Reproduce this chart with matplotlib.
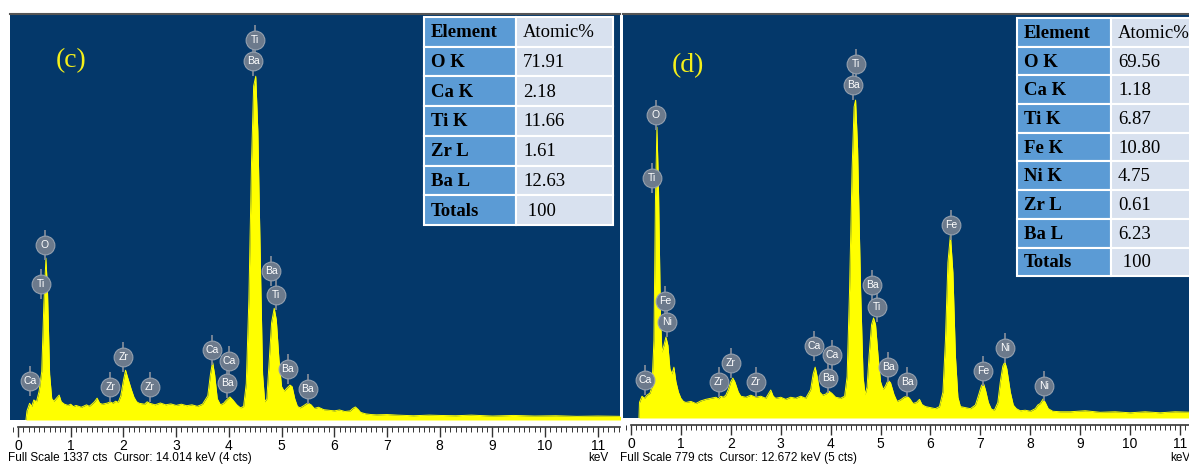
import matplotlib
matplotlib.use("Agg")
import matplotlib.pyplot as plt
from matplotlib.patches import Rectangle
from matplotlib.ticker import MultipleLocator

# --- spectrum (c): energy in keV, counts ---
kev_c = [0.15, 0.17, 0.22, 0.26, 0.30, 0.35, 0.40, 0.45, 0.49, 0.53, 0.56, 0.60, 0.64, 0.68,
         0.72, 0.78, 0.82, 0.88, 0.95, 1.00, 1.05, 1.10, 1.20, 1.30, 1.35, 1.40, 1.45, 1.50,
         1.55, 1.60, 1.70, 1.75, 1.80, 1.85, 1.90, 1.95, 2.00, 2.04, 2.08, 2.15, 2.20, 2.25,
         2.30, 2.40, 2.45, 2.50, 2.60, 2.70, 2.80, 2.90, 3.00, 3.10, 3.20, 3.30, 3.40, 3.50,
         3.60, 3.65, 3.69, 3.73, 3.78, 3.84, 3.90, 3.95, 4.02, 4.08, 4.15, 4.22, 4.28, 4.33,
         4.38, 4.43, 4.47, 4.51, 4.55, 4.60, 4.64, 4.68, 4.72, 4.76, 4.81, 4.86, 4.90, 4.95,
         5.00, 5.05, 5.10, 5.16, 5.20, 5.25, 5.30, 5.35, 5.40, 5.46, 5.50, 5.56, 5.62, 5.70,
         5.75, 5.80, 5.90, 6.00, 6.10, 6.20, 6.30, 6.35, 6.40, 6.45, 6.50, 6.60, 6.70, 6.80,
         7.00, 7.20, 7.50, 7.80, 8.00, 8.30, 8.60, 9.00, 9.40, 9.80, 10.2, 10.6, 11.0, 11.45]
cts_c = [0, 30, 55, 45, 66, 60, 95, 160, 380, 533, 420, 150, 70, 62,
         70, 82, 60, 52, 48, 52, 44, 48, 42, 50, 45, 52, 60, 72,
         55, 52, 56, 60, 55, 62, 58, 80, 130, 164, 140, 100, 75, 60,
         55, 52, 60, 55, 50, 56, 50, 53, 48, 52, 47, 50, 45, 52,
         80, 150, 191, 150, 70, 50, 55, 65, 76, 65, 50, 40, 45, 120,
         400, 850, 1100, 1132, 950, 500, 150, 60, 70, 180, 320, 368, 330, 200,
         110, 95, 105, 115, 110, 70, 45, 40, 45, 52, 56, 50, 38, 42,
         38, 34, 32, 30, 33, 28, 30, 38, 43, 35, 25, 20, 18, 17,
         18, 16, 14, 16, 15, 14, 16, 13, 15, 13, 14, 12, 13, 12]

# --- spectrum (d) ---
kev_d = [0.16, 0.17, 0.22, 0.27, 0.32, 0.38, 0.42, 0.46, 0.49, 0.52, 0.55, 0.59, 0.62, 0.66,
         0.70, 0.74, 0.78, 0.82, 0.86, 0.90, 0.95, 1.00, 1.05, 1.10, 1.20, 1.30, 1.40, 1.50,
         1.60, 1.70, 1.75, 1.80, 1.85, 1.90, 1.95, 2.00, 2.04, 2.08, 2.15, 2.20, 2.30, 2.40,
         2.50, 2.60, 2.70, 2.80, 2.85, 2.90, 3.00, 3.10, 3.20, 3.30, 3.40, 3.50, 3.60, 3.65,
         3.69, 3.73, 3.78, 3.84, 3.90, 3.96, 4.02, 4.10, 4.20, 4.28, 4.33, 4.38, 4.43, 4.47,
         4.50, 4.54, 4.60, 4.65, 4.69, 4.73, 4.77, 4.82, 4.86, 4.90, 4.95, 5.00, 5.05, 5.10,
         5.15, 5.20, 5.27, 5.33, 5.40, 5.47, 5.53, 5.58, 5.65, 5.72, 5.78, 5.83, 5.90, 6.00,
         6.10, 6.18, 6.25, 6.30, 6.35, 6.40, 6.45, 6.50, 6.55, 6.60, 6.70, 6.80, 6.90, 6.95,
         7.02, 7.06, 7.10, 7.16, 7.22, 7.28, 7.35, 7.40, 7.45, 7.49, 7.53, 7.60, 7.66, 7.72,
         7.80, 7.90, 8.00, 8.10, 8.15, 8.20, 8.26, 8.30, 8.36, 8.45, 8.60, 8.80, 9.10, 9.40,
         9.70, 10.0, 10.3, 10.6, 10.9, 11.25]
cts_d = [0, 30, 42, 38, 44, 48, 60, 150, 420, 561, 450, 200, 127, 140,
         156, 140, 95, 85, 98, 70, 50, 38, 32, 30, 32, 28, 33, 36,
         38, 40, 37, 42, 40, 44, 55, 70, 77, 70, 50, 42, 40, 44,
         40, 42, 38, 54, 42, 38, 40, 36, 40, 38, 42, 38, 55, 85,
         98, 80, 50, 44, 46, 52, 48, 40, 38, 42, 80, 250, 480, 600,
         613, 520, 250, 80, 45, 60, 120, 180, 193, 180, 120, 70, 55, 62,
         73, 68, 45, 32, 35, 40, 42, 38, 28, 30, 36, 26, 22, 20,
         18, 22, 50, 150, 300, 353, 280, 120, 40, 22, 20, 18, 25, 40,
         62, 67, 55, 30, 17, 15, 30, 70, 100, 108, 95, 50, 25, 18,
         14, 15, 13, 18, 25, 28, 37, 30, 18, 13, 12, 12, 14, 11,
         12, 10, 12, 10, 12, 11]

# peak markers: element, keV, counts of the badge centre
marks_c = [("Ti", 4.50, 1251), ("Ba", 4.46, 1182), ("O", 0.51, 576), ("Ti", 0.44, 448),
           ("Ca", 0.23, 128), ("Zr", 1.75, 109), ("Zr", 2.00, 207), ("Zr", 2.50, 109),
           ("Ca", 3.68, 230), ("Ca", 4.00, 194), ("Ba", 3.97, 122), ("Ba", 4.80, 491),
           ("Ti", 4.90, 412), ("Ba", 5.12, 168), ("Ba", 5.50, 102)]
marks_d = [("Ti", 4.51, 683), ("Ba", 4.45, 642), ("O", 0.50, 584), ("Ti", 0.42, 463),
           ("Fe", 0.68, 226), ("Ni", 0.72, 185), ("Ca", 0.28, 73), ("Zr", 1.76, 69),
           ("Zr", 2.00, 106), ("Zr", 2.50, 69), ("Ca", 3.67, 139), ("Ca", 4.03, 121),
           ("Ba", 3.95, 77), ("Ba", 4.83, 256), ("Ti", 4.93, 214), ("Ba", 5.15, 98),
           ("Ba", 5.53, 69), ("Fe", 6.41, 372), ("Fe", 7.05, 91), ("Ni", 7.50, 135),
           ("Ni", 8.28, 62)]

elem_c = ["O K", "Ca K", "Ti K", "Zr L", "Ba L", "Totals"]
atom_c = ["71.91", "2.18", "11.66", "1.61", "12.63", " 100"]
elem_d = ["O K", "Ca K", "Ti K", "Fe K", "Ni K", "Zr L", "Ba L", "Totals"]
atom_d = ["69.56", "1.18", "6.87", "10.80", "4.75", "0.61", "6.23", " 100"]

full_scale_c = 1337
full_scale_d = 779

W, H = 1189, 465
NAVY = "#04386a"
YEL = "#ffff00"


def fx(px):
    return px / W


def fy(py):
    return 1 - py / H


fig = plt.figure(figsize=(W / 100, H / 100), dpi=100)
fig.patch.set_facecolor("white")


def spectrum(left, right, bottom, xlim, fs, kev, cts, marks, tag, tag_xy, foot, foot_x, kev_x):
    ax = fig.add_axes([fx(left), fy(bottom), fx(right) - fx(left), fy(14) - fy(bottom)])
    ax.set_facecolor(NAVY)
    ax.fill_between(kev, 0, cts, color=YEL, lw=0, zorder=2)
    ax.plot(kev, cts, color=YEL, lw=0.7, zorder=2)
    ax.set_xlim(*xlim)
    ax.set_ylim(0, fs)

    # element badges with a short stem pointing at the peak
    for name, x, y in marks:
        ax.plot(x, y, marker="|", ms=21, mew=1.3, color="#7d8898", zorder=4)
        ax.plot(x, y, marker="o", ms=13.5, mfc="#6c7a8c", mec="#95a0ae", mew=0.8, zorder=5)
        ax.text(x, y, name, ha="center", va="center", fontsize=7.5, color="white",
                family="Liberation Sans", zorder=6)

    ax.text(tag_xy[0], tag_xy[1], tag, transform=fig.transFigure, color="#f4ef1a",
            fontsize=20, family="Liberation Serif", ha="center", va="center")

    for s in ["left", "right"]:
        ax.spines[s].set_visible(False)
    ax.spines["top"].set_color("#555555")
    ax.spines["top"].set_linewidth(1.5)
    ax.spines["bottom"].set_position(("outward", 5))
    ax.spines["bottom"].set_bounds(0, xlim[1])
    ax.spines["bottom"].set_color("#333333")
    ax.spines["bottom"].set_linewidth(1.2)
    ax.set_yticks([])
    ax.xaxis.set_major_locator(MultipleLocator(1))
    ax.xaxis.set_minor_locator(MultipleLocator(0.1))
    ax.tick_params(axis="x", which="major", length=7, width=1, color="#333333",
                   labelsize=10, pad=2)
    ax.tick_params(axis="x", which="minor", length=3.5, width=0.7, color="#333333")
    for lab in ax.get_xticklabels():
        lab.set_family("Liberation Sans")

    fig.text(fx(foot_x), fy(458), foot, fontsize=8.5, family="Liberation Sans",
             ha="left", va="center")
    fig.text(fx(kev_x), fy(458), "keV", fontsize=8.5, family="Liberation Sans",
             ha="left", va="center")
    return ax


def table(x0, xm, x1, y0, row_h, elems, vals):
    rows = [("Element", "Atomic%")] + list(zip(elems, vals))
    for i, (e, v) in enumerate(rows):
        top = y0 + i * row_h
        for (a, b, col) in [(x0, xm, "#5b9bd5"), (xm, x1, "#d8e1ef")]:
            r = Rectangle((fx(a), fy(top + row_h)), fx(b) - fx(a), fy(top) - fy(top + row_h),
                          transform=fig.transFigure, facecolor=col, edgecolor="white",
                          lw=1.5, zorder=10)
            fig.add_artist(r)
        yc = fy(top + row_h / 2 + 1)
        fig.text(fx(x0 + 7), yc, e, fontsize=13.5, family="Liberation Serif",
                 weight="bold", ha="left", va="center", zorder=11)
        fig.text(fx(xm + 7), yc, v, fontsize=13.5, family="Liberation Serif",
                 ha="left", va="center", zorder=11)


spectrum(10, 620, 420, (-0.152, 11.42), full_scale_c, kev_c, cts_c, marks_c,
         "(c)", (fx(71), fy(61)), "Full Scale 1337 cts  Cursor: 14.014 keV (4 cts)", 8, 588)
spectrum(623, 1189, 418, (-0.16, 11.18), full_scale_d, kev_d, cts_d, marks_d,
         "(d)", (fx(688), fy(66)), "Full Scale 779 cts  Cursor: 12.672 keV (5 cts)", 620, 1170)

table(424, 516, 613, 17, 29.7, elem_c, atom_c)
table(1017, 1111, 1200, 18, 28.7, elem_d, atom_d)

fig.savefig("out.png", dpi=100)
